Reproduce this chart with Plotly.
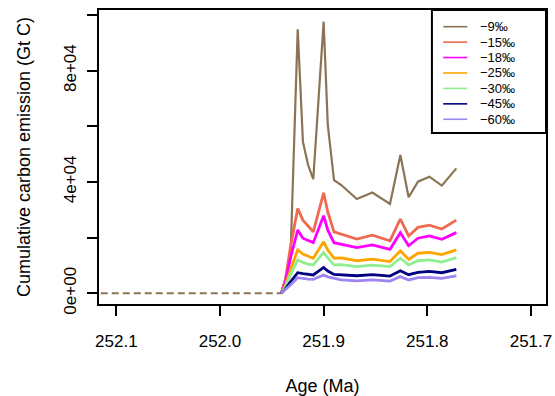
import plotly.graph_objects as go

# ---- data ----
ages = [251.941, 251.937, 251.932, 251.925, 251.920, 251.915, 251.910, 251.900,
        251.896, 251.890, 251.883, 251.868, 251.853, 251.836, 251.826, 251.818,
        251.809, 251.798, 251.786, 251.772]

pre_ages = [252.115, 251.941]
pre_vals = [0, 0]

d9 = [0, 4800, 12700, 94900, 54500, 46100, 41000, 97600, 60500, 40700, 38900,
      33900, 36200, 32100, 49700, 34500, 40100, 41900, 38700, 44900]
d15 = [0, 4800, 16600, 30500, 26300, 24200, 22100, 36100, 29200, 22100, 21300,
       19500, 20900, 18900, 26700, 20600, 23700, 24500, 23100, 26300]
d18 = [0, 3700, 12700, 22700, 19800, 19000, 18200, 27900, 22700, 18200, 17700,
       16400, 17400, 15800, 21800, 17100, 19800, 20600, 19400, 21800]
d25 = [0, 2600, 8400, 15600, 14100, 13400, 12600, 18500, 15600, 12600, 12700,
       11700, 12300, 11400, 15300, 12200, 14400, 14700, 13900, 15600]
d30 = [0, 2300, 6600, 12000, 11100, 10500, 10200, 14700, 12700, 10200, 10300,
       9600, 10100, 9600, 12600, 10200, 11700, 12000, 11200, 12800]
d45 = [0, 1500, 4100, 7400, 7100, 6800, 6600, 9300, 8000, 6800, 6600,
       6300, 6700, 6200, 8100, 6700, 7500, 7900, 7400, 8600]
d60 = [0, 1200, 3000, 5600, 5300, 5100, 5000, 6600, 5900, 5300, 4800,
       4500, 4800, 4400, 6000, 4800, 5600, 5700, 5400, 6300]

series_names = ["\u22129\u2030", "\u221215\u2030", "\u221218\u2030", "\u221225\u2030",
                "\u221230\u2030", "\u221245\u2030", "\u221260\u2030"]
series_vals = [d9, d15, d18, d25, d30, d45, d60]
series_colors = ["#8B7355", "#EE6A50", "#FF00FF", "#FFA500", "#90EE90", "#000080", "#9F85F0"]
series_widths = [2.2, 2.8, 2.8, 2.8, 2.8, 2.8, 2.8]

x_tickvals = [252.1, 252.0, 251.9, 251.8, 251.7]
x_ticktext = ["252.1", "252.0", "251.9", "251.8", "251.7"]
y_tickvals = [0, 20000, 40000, 60000, 80000, 100000]
y_ticktext = ["0e+00", "", "4e+04", "", "8e+04", ""]

FONT = "Liberation Sans, Arial, Helvetica, sans-serif"

fig = go.Figure()

fig.add_trace(go.Scatter(x=pre_ages, y=pre_vals, mode="lines",
                         line=dict(color=series_colors[0], width=2, dash="7px,4px"),
                         showlegend=False, hoverinfo="skip"))

for name, vals, col, w in zip(series_names, series_vals, series_colors, series_widths):
    fig.add_trace(go.Scatter(x=ages, y=vals, mode="lines", name=name,
                             line=dict(color=col, width=w), showlegend=False))

# ---- plot geometry (pixels) ----
W, H = 555, 396
L, R, T, B = 99, 545.7, 10, 304

def px(xp):
    return (xp - L) / (R - L)

def py(yp):
    return (B - yp) / (B - T)

shapes = []
annotations = []
# legend box
shapes.append(dict(type="rect", xref="paper", yref="paper",
                   x0=px(431.7), x1=px(545.7), y0=py(133), y1=py(10),
                   line=dict(color="black", width=2), fillcolor="white", layer="above"))
for i, (name, col) in enumerate(zip(series_names, series_colors)):
    yy = 26.7 + i * 15.43
    shapes.append(dict(type="line", xref="paper", yref="paper",
                       x0=px(443), x1=px(467), y0=py(yy), y1=py(yy),
                       line=dict(color=col, width=1.6), layer="above"))
    annotations.append(dict(xref="paper", yref="paper", x=px(478), y=py(yy),
                            text=name, showarrow=False, xanchor="left", yanchor="middle",
                            font=dict(family=FONT, size=13, color="black")))

fig.update_layout(
    width=W, height=H,
    margin=dict(l=L, r=W - R, t=T, b=H - B, pad=0, autoexpand=False),
    paper_bgcolor="white", plot_bgcolor="white",
    showlegend=False,
    shapes=shapes, annotations=annotations,
    font=dict(family=FONT, size=17, color="black"),
)

fig.update_xaxes(range=[252.1167, 251.6855], tickmode="array",
                 tickvals=x_tickvals, ticktext=x_ticktext,
                 ticks="outside", ticklen=10, tickwidth=1.8, tickcolor="black",
                 showline=True, linecolor="black", linewidth=2, mirror=True,
                 showgrid=False, zeroline=False, automargin=False,
                 tickfont=dict(family=FONT, size=17),
                 ticklabelstandoff=11,
                 title=dict(text="Age (Ma)", font=dict(family=FONT, size=18), standoff=30))

fig.update_yaxes(range=[-3842, 101800], tickmode="array",
                 tickvals=y_tickvals, ticktext=y_ticktext,
                 ticks="outside", ticklen=10, tickwidth=1.8, tickcolor="black",
                 showline=True, linecolor="black", linewidth=2, mirror=True,
                 showgrid=False, zeroline=False, tickangle=-90, automargin=False,
                 tickfont=dict(family=FONT, size=17),
                 ticklabelstandoff=4,
                 title=dict(text="Cumulative carbon emission (Gt C)",
                            font=dict(family=FONT, size=18), standoff=26))

fig.write_html("out.html")
